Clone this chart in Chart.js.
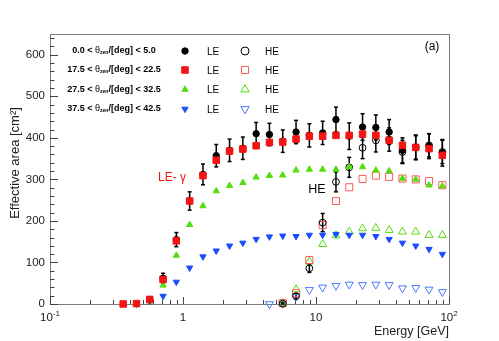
<!DOCTYPE html>
<html>
<head>
<meta charset="utf-8">
<script src="https://cdn.jsdelivr.net/npm/chart.js@4.4.1/dist/chart.umd.min.js"></script>
<style>
  html, body { margin: 0; padding: 0; background: #fff; }
  canvas { display: block; }
</style>
</head>
<body>
<canvas id="effArea" width="499" height="341"></canvas>
<script>
const energies = [0.355, 0.447, 0.562, 0.708, 0.891, 1.122, 1.413, 1.778, 2.239, 2.818, 3.548, 4.467,
  5.623, 7.079, 8.913, 11.22, 14.13, 17.78, 22.39, 28.18, 35.48, 44.67, 56.23, 70.79, 89.13]

// LE (filled markers)
const leBlack = [null, null, 10, 62, 155, 248, 312, 357, 370, 375, 410, 408, 392, 414, 406, 412, 444, 404, 426, 425, 414, 370, 377, 380, 364]
const leBlackErr = [0, 0, 6, 12, 17, 22, 25, 27, 27, 27, 27, 27, 27, 28, 28, 28, 30, 32, 32, 30, 30, 30, 30, 30, 32]
const leRed = [0, 1, 11, 59, 152, 248, 309, 346, 368, 373, 381, 389, 390, 397, 404, 404, 406, 406, 409, 406, 394, 382, 377, 374, 358]
const leGreen = [null, 1, 7, 45, 117, 191, 236, 272, 285, 292, 305, 309, 310, 322, 324, 324, 324, 330, 330, 322, 320, 302, 300, 286, 284]
const leBlue = [null, 0, 7, 19, 53, 87, 114, 128, 140, 147, 156, 162, 164, 163, 166, 166, 168, 166, 166, 163, 156, 147, 140, 132, 120]

// HE (open markers)
const heBlack = [null, null, null, null, null, null, null, null, null, null, null, null, 1, 19, 86, 196, 294, 329, 376, 394, 396, 366, 377, 382, 366]
const heBlackErr = [0, 0, 0, 0, 0, 0, 0, 0, 0, 0, 0, 0, 3, 6, 10, 22, 24, 24, 26, 28, 28, 28, 28, 28, 28]
const heRed = [null, null, null, null, null, null, null, null, null, null, null, null, 2, 26, 106, 190, 248, 281, 301, 309, 306, 302, 300, 296, 286]
const heGreen = [null, null, null, null, null, null, null, null, null, null, null, null, 2, 35, 102, 144, 165, 174, 182, 183, 178, 174, 174, 166, 166]
const heBlue = [null, null, null, null, null, null, null, null, null, null, null, 0, 1, 18, 34, 40, 44, 47, 46, 47, 46, 38, 39, 35, 29]

const zenithBins = [['0.0', '5.0'], ['17.5', '22.5'], ['27.5', '32.5'], ['37.5', '42.5']]
const yTicks = [0, 100, 200, 300, 400, 500, 600]
const xTicks = [0.1, 1, 10, 100]
const xTickBase = ['10', '1', '10', '10']
const xTickExp = ['-1', '', '', '2']

const RED = '#f41414'
const GREEN = '#55dd10'
const BLUE = '#1a4cff'
const RED_OPEN = '#ff5a5a'
const BLUE_OPEN = '#4a78ff'
const FONT = '"Liberation Sans", Arial, sans-serif'

const toPoints = vals => vals.map((v, i) => v === null ? null : { x: energies[i], y: v }).filter(p => p)

const series = [
  { label: 'LE 17.5-22.5', data: leRed, style: 'rect', r: 4.6, color: RED, fill: true, order: 0 },
  { label: 'LE 0-5', data: leBlack, style: 'circle', r: 3.2, color: '#000', fill: true, order: 1 },
  { label: 'LE 27.5-32.5', data: leGreen, style: 'triangle', r: 3.6, color: GREEN, fill: true, order: 2 },
  { label: 'LE 37.5-42.5', data: leBlue, style: 'triangle', rot: 180, r: 3.6, color: BLUE, fill: true, order: 3 },
  { label: 'HE 0-5', data: heBlack, style: 'circle', r: 3.4, color: '#000', fill: false, order: 4 },
  { label: 'HE 17.5-22.5', data: heRed, style: 'rect', r: 5, color: RED_OPEN, fill: false, order: 5 },
  { label: 'HE 27.5-32.5', data: heGreen, style: 'triangle', r: 4.6, color: GREEN, fill: false, order: 6 },
  { label: 'HE 37.5-42.5', data: heBlue, style: 'triangle', rot: 180, r: 4.6, color: BLUE_OPEN, fill: false, order: 7 }
]

const datasets = series.map(s => ({
  label: s.label,
  data: toPoints(s.data),
  order: s.order,
  clip: false,
  showLine: false,
  pointStyle: s.style,
  pointRotation: s.rot || 0,
  pointRadius: s.r,
  pointHoverRadius: s.r,
  pointBorderWidth: 1,
  pointBorderColor: s.color,
  pointBackgroundColor: s.fill ? s.color : 'rgba(0,0,0,0)'
}))

const drawMarker = (ctx, style, x, y, r, color, fill, rot) => {
  ctx.save()
  ctx.translate(x, y)
  if (rot) ctx.rotate(rot * Math.PI / 180)
  ctx.beginPath()
  if (style === 'circle') {
    ctx.arc(0, 0, r, 0, Math.PI * 2)
  } else if (style === 'rect') {
    const s = r * Math.SQRT1_2
    ctx.rect(-s, -s, 2 * s, 2 * s)
  } else {
    for (let k = 0; k < 3; k++) {
      const a = k * 2 * Math.PI / 3
      ctx.lineTo(Math.sin(a) * r, -Math.cos(a) * r)
    }
    ctx.closePath()
  }
  ctx.lineWidth = 1
  ctx.strokeStyle = color
  if (fill) { ctx.fillStyle = color; ctx.fill() }
  ctx.stroke()
  ctx.restore()
}

const line = (ctx, x1, y1, x2, y2) => {
  ctx.beginPath()
  ctx.moveTo(x1, y1)
  ctx.lineTo(x2, y2)
  ctx.stroke()
}

const errorBars = {
  id: 'errorBars',
  beforeDatasetsDraw(chart) {
    const { ctx, scales: { x, y } } = chart
    ctx.save()
    ctx.strokeStyle = '#000'
    ctx.lineWidth = 1.5
    const pairs = [[leBlack, leBlackErr], [heBlack, heBlackErr]]
    pairs.forEach(([vals, errs]) => {
      vals.forEach((v, i) => {
        if (v === null || !errs[i]) return
        const px = x.getPixelForValue(energies[i])
        const lo = y.getPixelForValue(Math.max(0, v - errs[i]))
        const hi = y.getPixelForValue(v + errs[i])
        line(ctx, px, lo, px, hi)
        line(ctx, px - 2, lo, px + 2, lo)
        line(ctx, px - 2, hi, px + 2, hi)
      })
    })
    ctx.restore()
  }
}

const frame = {
  id: 'frame',
  beforeDatasetsDraw(chart) {
    const { ctx, chartArea: a, scales: { x, y } } = chart
    ctx.save()
    ctx.strokeStyle = '#7a7a7a'
    ctx.lineWidth = 1
    ctx.strokeRect(a.left + 0.5, a.top + 0.5, a.right - a.left, a.bottom - a.top)

    // y ticks, inward
    ctx.strokeStyle = '#444'
    for (let v = 0; v <= 640; v += 20) {
      const py = Math.round(y.getPixelForValue(v)) + 0.5
      line(ctx, a.left, py, a.left + (v % 100 === 0 ? 8 : 4.5), py)
    }
    // x ticks, log decades with minors
    for (let d = 0.1; d < 100; d *= 10) {
      for (let m = 1; m < 10; m++) {
        const px = Math.round(x.getPixelForValue(d * m)) + 0.5
        line(ctx, px, a.bottom, px, a.bottom - (m === 1 ? 7 : 4))
      }
    }
    const pxEnd = Math.round(x.getPixelForValue(100)) + 0.5
    line(ctx, pxEnd, a.bottom, pxEnd, a.bottom - 7)

    // tick labels
    ctx.fillStyle = '#222'
    ctx.font = '11.5px ' + FONT
    ctx.textAlign = 'right'
    ctx.textBaseline = 'middle'
    yTicks.forEach(v => ctx.fillText(String(v), a.left - 5, y.getPixelForValue(v)))

    ctx.textBaseline = 'alphabetic'
    xTicks.forEach((v, i) => {
      const px = x.getPixelForValue(v)
      ctx.font = '11.5px ' + FONT
      const wb = ctx.measureText(xTickBase[i]).width
      ctx.font = '8px ' + FONT
      const we = ctx.measureText(xTickExp[i]).width
      const start = px - (wb + we) / 2
      ctx.textAlign = 'left'
      ctx.font = '11.5px ' + FONT
      ctx.fillText(xTickBase[i], start, a.bottom + 17)
      ctx.font = '8px ' + FONT
      ctx.fillText(xTickExp[i], start + wb, a.bottom + 12)
    })

    // axis titles
    ctx.font = '12.5px ' + FONT
    ctx.textAlign = 'right'
    ctx.fillText('Energy [GeV]', a.right, a.bottom + 31)
    ctx.save()
    ctx.translate(19, 163)
    ctx.rotate(-Math.PI / 2)
    ctx.textAlign = 'center'
    ctx.font = '13px ' + FONT
    ctx.fillText('Effective area [cm²]', 0, 0)
    ctx.restore()
    ctx.restore()
  }
}

const legendRows = [
  ['circle', 3.2, 0, '#000', 4.0, 0, '#000'],
  ['rect', 4.6, 0, RED, 5, 0, RED_OPEN],
  ['triangle', 3.6, 0, GREEN, 4.8, 0, GREEN],
  ['triangle', 3.6, 180, BLUE, 4.8, 180, BLUE_OPEN]
]
const legendY = [51, 70, 89.5, 109]

const annotations = {
  id: 'annotations',
  afterDraw(chart) {
    const { ctx } = chart
    ctx.save()
    ctx.fillStyle = '#000'
    ctx.textBaseline = 'middle'
    zenithBins.forEach(([lo, hi], i) => {
      const yy = legendY[i]
      const parts = [
        [lo + ' < ', 'bold 9px ' + FONT, 0],
        ['θ', '9px ' + FONT, 0],
        ['zen', 'bold 5px ' + FONT, 2],
        ['/[deg] < ' + hi, 'bold 9px ' + FONT, 0]
      ]
      let total = 0
      parts.forEach(p => { ctx.font = p[1]; total += ctx.measureText(p[0]).width })
      let cx = 114 - total / 2
      ctx.textAlign = 'left'
      parts.forEach(p => {
        ctx.font = p[1]
        ctx.fillText(p[0], cx, yy + p[2])
        cx += ctx.measureText(p[0]).width
      })
      const row = legendRows[i]
      drawMarker(ctx, row[0], 185, yy, row[1], row[3], true, row[2])
      drawMarker(ctx, row[0], 245, yy, row[4], row[6], false, row[5])
      ctx.fillStyle = '#000'
      ctx.font = '10px ' + FONT
      ctx.fillText('LE', 207, yy + 1)
      ctx.fillText('HE', 265, yy + 1)
    })

    ctx.textAlign = 'center'
    ctx.font = '12px ' + FONT
    ctx.fillStyle = RED
    ctx.fillText('LE- γ', 172, 178)
    ctx.fillStyle = '#000'
    ctx.font = '12.5px ' + FONT
    ctx.fillText('HE', 317, 190)
    ctx.font = '12px ' + FONT
    ctx.fillText('(a)', 432, 47)
    ctx.restore()
  }
}

new Chart(document.getElementById('effArea'), {
  type: 'scatter',
  data: { datasets },
  options: {
    responsive: false,
    animation: false,
    devicePixelRatio: 1,
    layout: { padding: { left: 50, right: 50, top: 34, bottom: 37 } },
    plugins: { legend: { display: false }, tooltip: { enabled: false } },
    scales: {
      x: { type: 'logarithmic', min: 0.1, max: 100, display: false },
      y: { type: 'linear', min: 0, max: 650, display: false }
    }
  },
  plugins: [frame, errorBars, annotations]
})
</script>
</body>
</html>
